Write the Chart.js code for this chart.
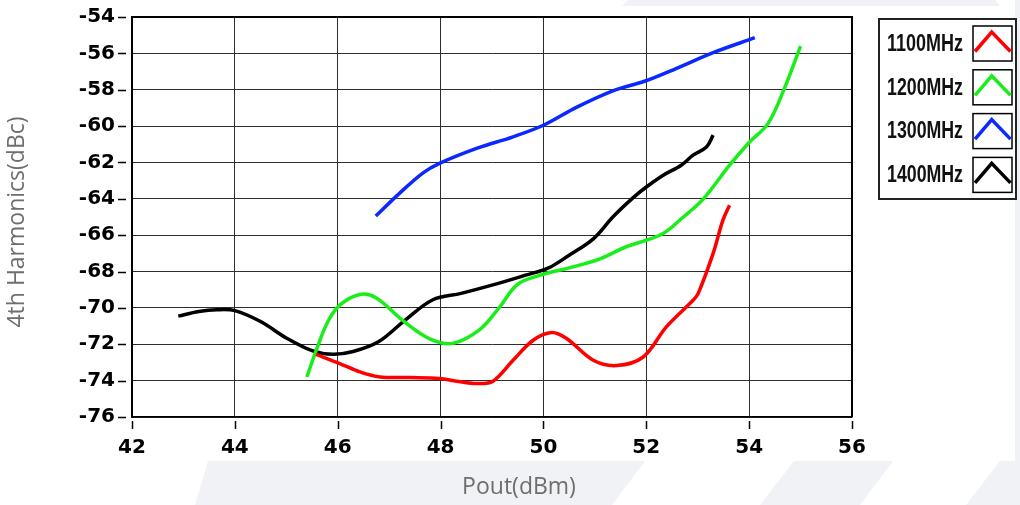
<!DOCTYPE html>
<html>
<head>
<meta charset="utf-8">
<script src="https://cdn.jsdelivr.net/npm/chart.js@4/dist/chart.umd.min.js"></script>
<style>
  html, body { margin: 0; padding: 0; background: #ffffff; }
  #wrap { width: 1020px; height: 505px; position: relative; }
  canvas { display: block; }
</style>
</head>
<body>
<div id="wrap"><canvas id="c" width="1020" height="505"></canvas></div>
<script>
// ---------- data ----------
const seriesNames = ['1100MHz', '1200MHz', '1300MHz', '1400MHz'];
const seriesColors = ['#ff0000', '#1aee1a', '#0a28ff', '#000000'];

const x1100 = [45.58, 46.04, 46.43, 46.82, 47.4, 47.98, 48.31, 48.7, 49.02, 49.41, 49.8, 50.16, 50.45, 50.97, 51.42, 51.94, 52.39, 52.91, 53.01, 53.3, 53.49, 53.62];
const y1100 = [-72.56, -73.06, -73.52, -73.8, -73.83, -73.88, -74.03, -74.16, -74.03, -72.88, -71.78, -71.35, -71.68, -72.88, -73.17, -72.7, -71.04, -69.58, -69.2, -67.0, -65.17, -64.35];

const x1200 = [45.4, 45.58, 45.8, 46.04, 46.43, 46.75, 47.27, 47.79, 48.24, 48.76, 49.15, 49.5, 50.0, 50.5, 51.1, 51.6, 52.3, 52.72, 53.11, 53.62, 54.0, 54.37, 54.69, 55.0];
const y1200 = [-73.8, -72.35, -70.8, -69.85, -69.26, -69.45, -70.7, -71.7, -71.95, -71.2, -69.95, -68.7, -68.15, -67.8, -67.3, -66.65, -65.95, -65.0, -64.0, -62.15, -60.9, -59.85, -57.9, -55.6];

const x1300 = [46.74, 47.2, 47.66, 47.98, 48.7, 49.41, 50.01, 50.64, 51.35, 51.98, 52.59, 53.3, 54.11];
const y1300 = [-64.95, -63.7, -62.57, -62.05, -61.23, -60.59, -59.94, -58.97, -58.06, -57.52, -56.82, -55.96, -55.14];

const x1400 = [42.9, 43.3, 43.65, 44.0, 44.5, 45.0, 45.5, 45.9, 46.3, 46.8, 47.3, 47.85, 48.4, 49.0, 49.65, 50.1, 50.5, 50.97, 51.35, 51.74, 52.0, 52.33, 52.68, 52.91, 53.17, 53.3];
const y1400 = [-70.45, -70.2, -70.1, -70.15, -70.75, -71.65, -72.35, -72.55, -72.4, -71.85, -70.7, -69.55, -69.2, -68.75, -68.2, -67.8, -67.1, -66.2, -65.0, -63.95, -63.35, -62.7, -62.15, -61.6, -61.15, -60.5];

const xTicks = [42, 44, 46, 48, 50, 52, 54, 56];
const yTicks = [-76, -74, -72, -70, -68, -66, -64, -62, -60, -58, -56, -54];
const xTitle = 'Pout(dBm)';
const yTitle = '4th Harmonics(dBc)';

// ---------- helpers ----------
function pts(xs, ys) { return xs.map((x, i) => ({ x: x, y: ys[i] })); }
const allX = [x1100, x1200, x1300, x1400];
const allY = [y1100, y1200, y1300, y1400];

const datasets = seriesNames.map((name, i) => ({
  label: name,
  data: pts(allX[i], allY[i]),
  borderColor: seriesColors[i],
  backgroundColor: seriesColors[i],
  borderWidth: 3.5,
  pointRadius: 0,
  showLine: true,
  tension: 0.35,
  fill: false
}));

// background watermark
const bgPlugin = {
  id: 'bg',
  beforeDraw(chart) {
    const ctx = chart.ctx;
    ctx.save();
    ctx.fillStyle = '#ffffff';
    ctx.fillRect(0, 0, 1020, 505);
    ctx.fillStyle = '#f1f2f6';
    const polys = [
      [[208, 461], [645, 461], [612, 505], [195, 505]],
      [[794, 461], [893, 461], [860, 505], [760, 505]],
      [[1000, 461], [1020, 461], [1020, 505], [966, 505]],
      [[628, 0], [995, 0], [1000, 6], [622, 6]],
      [[1015, 0], [1020, 0], [1020, 461], [1015, 461]]
    ];
    polys.forEach(p => {
      ctx.beginPath();
      ctx.moveTo(p[0][0], p[0][1]);
      for (let k = 1; k < p.length; k++) ctx.lineTo(p[k][0], p[k][1]);
      ctx.closePath();
      ctx.fill();
    });
    ctx.restore();
  }
};

// ticks, frame, titles, legend
const decoPlugin = {
  id: 'deco',
  afterDraw(chart) {
    const ctx = chart.ctx;
    const a = chart.chartArea;
    const xs = chart.scales.x, ys = chart.scales.y;
    ctx.save();
    // tick marks with small gap
    ctx.strokeStyle = '#000';
    ctx.lineWidth = 1.5;
    ctx.beginPath();
    xTicks.forEach(v => {
      const px = Math.round(xs.getPixelForValue(v)) + 0.5;
      ctx.moveTo(px, a.bottom + 4);
      ctx.lineTo(px, a.bottom + 12);
    });
    yTicks.forEach(v => {
      const py = Math.round(ys.getPixelForValue(v)) + 0.5;
      ctx.moveTo(a.left - 14, py);
      ctx.lineTo(a.left - 6, py);
    });
    ctx.stroke();

    // frame top/right
    ctx.lineWidth = 2;
    ctx.beginPath();
    ctx.moveTo(a.left, a.top);
    ctx.lineTo(a.right, a.top);
    ctx.lineTo(a.right, a.bottom);
    ctx.stroke();

    // axis titles
    ctx.fillStyle = '#6e6e6e';
    ctx.font = '23px "Open Sans", "DejaVu Sans", sans-serif';
    ctx.textAlign = 'center';
    ctx.textBaseline = 'middle';
    ctx.fillText(xTitle, 519, 487);
    ctx.save();
    ctx.translate(17, 222);
    ctx.rotate(-Math.PI / 2);
    ctx.fillText(yTitle, 0, 0);
    ctx.restore();

    // legend
    ctx.strokeStyle = '#222';
    ctx.lineWidth = 2;
    ctx.strokeRect(879, 19, 137, 180);
    ctx.font = 'bold 23px "Liberation Sans", Arial, sans-serif';
    ctx.textAlign = 'left';
    ctx.textBaseline = 'middle';
    seriesNames.forEach((name, i) => {
      const top = 26 + i * 43.8;
      // sample box
      ctx.strokeStyle = '#000';
      ctx.lineWidth = 1.5;
      ctx.strokeRect(973, top, 39, 35);
      ctx.strokeStyle = seriesColors[i];
      ctx.lineWidth = 3.5;
      ctx.beginPath();
      ctx.moveTo(975, top + 25.5);
      ctx.lineTo(991.7, top + 6);
      ctx.lineTo(1010.5, top + 25.5);
      ctx.stroke();
      // label (horizontally condensed)
      ctx.fillStyle = '#111';
      const w = ctx.measureText(name).width;
      const sx = 76 / w;
      ctx.save();
      ctx.translate(887, top + 18.5);
      ctx.scale(sx, 1);
      ctx.fillText(name, 0, 0);
      ctx.restore();
    });
    ctx.restore();
  }
};

const tickFont = { family: '"DejaVu Sans", Verdana, sans-serif', size: 20, weight: 'bold' };

new Chart(document.getElementById('c'), {
  type: 'scatter',
  data: { datasets: datasets },
  options: {
    responsive: false,
    animation: false,
    devicePixelRatio: 1,
    layout: { padding: { left: 0, right: 168, top: 17, bottom: 0 } },
    plugins: { legend: { display: false }, tooltip: { enabled: false }, title: { display: false } },
    scales: {
      x: {
        type: 'linear',
        min: 42, max: 56,
        afterFit(scale) { scale.height = 88; },
        afterBuildTicks(scale) { scale.ticks = xTicks.map(v => ({ value: v })); },
        ticks: { font: tickFont, color: '#000', padding: 7, maxRotation: 0, autoSkip: false },
        grid: {
          color: ctx => (ctx.tick && ctx.tick.value === 56) ? '#000' : '#2e2e2e',
          lineWidth: 1,
          drawTicks: true, tickLength: 12, tickColor: 'rgba(0,0,0,0)'
        },
        border: { display: true, color: '#000', width: 1.5 }
      },
      y: {
        type: 'linear',
        min: -76, max: -54,
        afterFit(scale) { scale.width = 132; },
        afterBuildTicks(scale) { scale.ticks = yTicks.map(v => ({ value: v })); },
        ticks: { font: tickFont, color: '#000', padding: 3, autoSkip: false },
        grid: {
          color: ctx => (ctx.tick && ctx.tick.value === -54) ? '#000' : '#2e2e2e',
          lineWidth: 1,
          drawTicks: true, tickLength: 14, tickColor: 'rgba(0,0,0,0)'
        },
        border: { display: true, color: '#000', width: 2 }
      }
    }
  },
  plugins: [bgPlugin, decoPlugin]
});
</script>
</body>
</html>
